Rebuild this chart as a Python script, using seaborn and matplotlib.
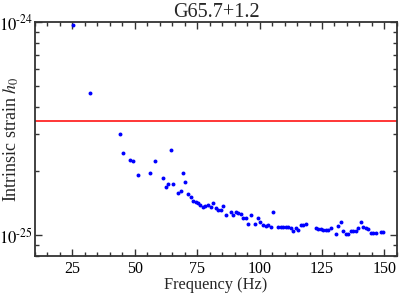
import matplotlib
matplotlib.use("Agg")
import matplotlib.pyplot as plt
import matplotlib.ticker as mticker
import seaborn as sns
import pandas as pd
import numpy as np

freq = [25.1, 32.2, 44.2, 45.3, 48.2, 49.3, 51.3, 56.2, 58.2, 61.3, 62.3, 63.3, 64.3,
        65.4, 67.4, 68.4, 69.3, 70.3, 71.4, 72.4, 73.4, 74.4, 75.4, 76.3, 77.4, 78.3,
        79.4, 80.4, 81.4, 82.4, 83.4, 84.4, 85.5, 86.4, 88.4, 89.5, 90.4, 91.5, 92.4,
        93.3, 94.4, 95.5, 96.4, 98.3, 99.4, 100.3, 101.4, 102.4, 103.4, 104.4, 105.4,
        107.4, 108.4, 109.4, 110.4, 111.4, 112.4, 113.5, 114.4, 115.5, 116.4, 117.5,
        118.4, 122.5, 123.4, 124.5, 125.4, 126.5, 127.5, 128.5, 130.5, 131.5, 132.5,
        133.5, 134.5, 135.6, 136.5, 137.6, 138.5, 139.6, 140.5, 141.6, 142.6, 143.6,
        144.6, 145.6, 146.6, 148.6, 149.6]
h0_e25 = [9.7, 4.67, 3.0, 2.43, 2.26, 2.24, 1.91, 1.95, 2.23, 1.86, 1.69, 1.74, 2.50,
          1.75, 1.58, 1.62, 1.96, 1.78, 1.56, 1.52, 1.45, 1.43, 1.42, 1.39, 1.36, 1.38,
          1.39, 1.36, 1.42, 1.35, 1.32, 1.32, 1.38, 1.24, 1.29, 1.24, 1.28, 1.27, 1.26,
          1.21, 1.21, 1.135, 1.24, 1.13, 1.205, 1.15, 1.12, 1.11, 1.12, 1.10, 1.29,
          1.09, 1.094, 1.094, 1.10, 1.10, 1.086, 1.05, 1.08, 1.06, 1.12, 1.118,
          1.135, 1.08, 1.075, 1.066, 1.055, 1.055, 1.063, 1.086, 1.02, 1.11, 1.16,
          1.047, 1.02, 1.02, 1.047, 1.047, 1.047, 1.08, 1.155, 1.094, 1.086, 1.066,
          1.026, 1.026, 1.026, 1.04, 1.04]
limit_h0 = 3.43e-25
title = "G65.7+1.2"
ytick_vals = [1e-25, 1e-24]
ytick_labels = [r"$10^{\text{-}25}$", r"$10^{\text{-}24}$"]

df = pd.DataFrame({"freq": freq, "h0": np.array(h0_e25) * 1e-25})

sns.set_style("ticks")
plt.rcParams["font.family"] = ["Liberation Serif", "DejaVu Serif"]
plt.rcParams["mathtext.fontset"] = "stix"

fig = plt.figure(figsize=(3.99, 2.96), dpi=100)
ax = fig.add_axes([0.0877, 0.135, 0.907, 0.7907])

sns.scatterplot(data=df, x="freq", y="h0", ax=ax, color="#0000ff", s=8,
                linewidth=0, marker="o", legend=False)
ax.axhline(limit_h0, color="#ff0000", lw=1.1)

ax.set_yscale("log")
ax.set_xlim(10, 155)
ax.set_ylim(8e-26, 1e-24)
ax.set_xticks([25, 50, 75, 100, 125, 150])
ax.xaxis.set_minor_locator(mticker.MultipleLocator(5))
ax.set_yticks(ytick_vals)
ax.set_yticklabels(ytick_labels)
ax.yaxis.set_minor_locator(mticker.LogLocator(base=10, subs=np.arange(2, 10), numticks=10))
ax.yaxis.set_minor_formatter(mticker.NullFormatter())

ax.tick_params(which="both", direction="in", top=True, right=True, colors="#333333",
               labelcolor="black")
ax.tick_params(axis="x", labelsize=11.5, pad=3.5)
ax.tick_params(axis="y", labelsize=12, pad=1.5)
ax.tick_params(which="major", length=5, width=1)
ax.tick_params(which="minor", length=3, width=1)
for sp in ax.spines.values():
    sp.set_color("#333333")
    sp.set_linewidth(1.3)

ax.set_title(title, fontsize=14.5, pad=3)
ax.set_xlabel("Frequency (Hz)", fontsize=11.8, labelpad=0)
ax.set_ylabel("Intrinsic strain $h_0$", fontsize=13)
ax.yaxis.set_label_coords(-0.040, 0.5)

fig.savefig("out.png", dpi=100)
